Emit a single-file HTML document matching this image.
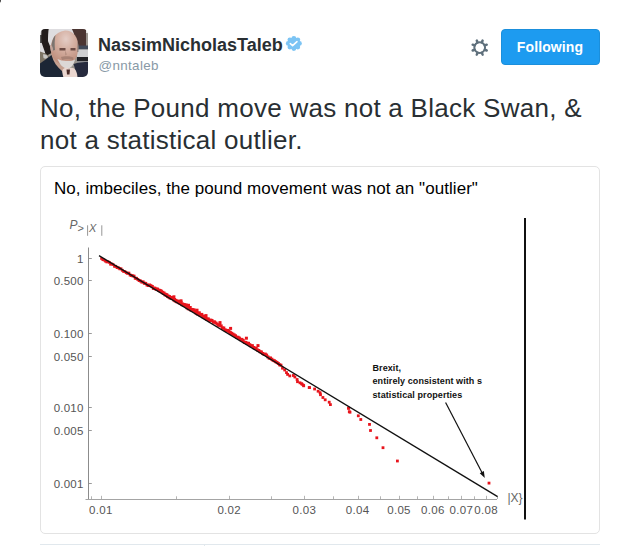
<!DOCTYPE html>
<html><head><meta charset="utf-8">
<style>
html,body{margin:0;padding:0;background:#fff;}
body{width:634px;height:546px;overflow:hidden;position:relative;font-family:"Liberation Sans",sans-serif;}
.abs{position:absolute;white-space:nowrap;}
#blob{left:-3px;top:-3px;width:4px;height:5.5px;border-radius:50%;background:#4a4a4a;filter:blur(0.6px);}
#avatar{left:40px;top:29px;width:48px;height:48px;border-radius:5px;overflow:hidden;}
#name{left:98px;top:34px;font-size:18px;font-weight:bold;color:#292f33;line-height:22px;}
#badge{left:284px;top:34px;width:20px;height:20px;}
#handle{left:98.5px;top:56.5px;font-size:13.4px;color:#8899a6;line-height:18px;letter-spacing:0.35px;}
#gear{left:469px;top:37px;width:20px;height:20px;}
#btn{left:501px;top:29px;width:97px;height:34px;border:1px solid #1b8fdc;border-radius:4px;background:#1d9bf0;color:#fff;font-weight:bold;font-size:14px;line-height:34px;text-align:center;letter-spacing:0.12px;text-indent:-1px;}
#tweet{left:40px;top:92px;font-size:26px;line-height:32px;color:#292f33;letter-spacing:0.27px;}
#card{left:40px;top:166px;width:558px;height:366px;border:1px solid #e3e3e3;border-radius:5px;}
#title{left:54px;top:179px;font-size:17px;color:#000;line-height:20px;letter-spacing:0.05px;}
#bline{left:40px;top:544px;width:560px;height:1px;background:#e1e8ed;}
#bdiv{left:204px;top:545px;width:1px;height:1px;background:#e1e8ed;}
#chart{left:0;top:0;width:634px;height:546px;}
</style></head>
<body>
<div class="abs" id="blob"></div>
<div class="abs" id="avatar">
<svg width="48" height="48" viewBox="0 0 48 48">
<defs><radialGradient id="hg" cx="0.55" cy="0.25" r="0.75"><stop offset="0" stop-color="#e4cdc6"/><stop offset="0.45" stop-color="#d4aea0"/><stop offset="1" stop-color="#bd8c7a"/></radialGradient><filter id="bl" x="-5%" y="-5%" width="110%" height="110%"><feGaussianBlur stdDeviation="0.55"/></filter></defs>
<g filter="url(#bl)">
<rect x="-2" y="-2" width="52" height="52" fill="#9a948e"/>
<rect x="0" y="-2" width="34" height="26" fill="#dedde0"/>
<path d="M-2 6H3V14H-2Z" fill="#555"/>
<path d="M1.5 -2H9C8 3 8 8 8 12 9 15 11 18 11.5 24L6 27C4.5 21 2.5 17 1.5 13 1 8 1.5 3 1.5 -2Z" fill="#221d1b"/>
<path d="M-2 22C2 23 5 24 9 27L10 33 -2 36Z" fill="#7e7466"/>
<path d="M3 25.5C5 25 7 26 8 28 7 30 5 30 3.5 29Z" fill="#c8c6c4"/>
<path d="M31 -2H46V18H38C36 10 34 4 31 -2Z" fill="#4c3430"/>
<path d="M46 -2H50V4H46Z" fill="#e4e4e4"/>
<rect x="37" y="16.5" width="13" height="4" fill="#414858"/>
<rect x="37" y="20.5" width="13" height="7.5" fill="#d0d0d2"/>
<rect x="37" y="28" width="13" height="4" fill="#222225"/>
<rect x="37" y="32" width="13" height="4" fill="#8c8c90"/>
<path d="M11 24L20 30 26 38 24 44 18 40 13 33Z" fill="#c4a090"/>
<path d="M11 23C10 12 14 3 25 1.5 34 1.5 38.5 9 38.3 19 38 28 33.5 35 27 36 19 36 13 32 11 23Z" fill="url(#hg)"/>
<path d="M11.5 22C11 16 12 10 15.5 6 14.5 11 14.5 16 15 21Z" fill="#7c7470"/>
<path d="M10 16C12 16 13 18 13 21 12.5 23 11 23 10.5 21Z" fill="#c4a49a"/>
<path d="M37.5 12C38.6 15 38.7 19 38.4 23L37.2 23C37.5 19 37.5 15 37.5 12Z" fill="#8a7e78"/>
<path d="M19.5 19h6v2.4h-6zM30.5 19h5v2.4h-5z" fill="#6c4c44"/>
<path d="M25 21L27 25.5 25 26.5Z" fill="#b89284"/>
<path d="M21 28C24 27 30 27 33.5 28.5L33 31C30 30 25 30 22 31Z" fill="#a07c6e" opacity="0.8"/>
<path d="M17.5 30C19.5 35 23 39.5 27.5 39.5 31.5 39.5 34 35 35 30.5 32 32.5 29 32 26 32 23 32 20 31 17.5 30Z" fill="#dcd8d6"/>
<path d="M-2 50V36C3 32 8 29 11.5 26 13.5 33 17 38 22 42L25 50Z" fill="#1f2534"/>
<path d="M33.5 35C38 33.5 43 33 50 33V50H37C36 44 35 39 33.5 35Z" fill="#262c3c"/>
<path d="M22.5 41C24 38.5 27 38 29 39.5 31 38 34 38.5 35.5 41 37 43.5 37.5 46 37.5 50H24C23 47 22 44 22.5 41Z" fill="#ead6cf"/>
<path d="M26.5 40.5h3.5l-0.5 5h-2.5z" fill="#4a2a28"/>
</g>
</svg>
</div>
<div class="abs" id="name">NassimNicholasTaleb</div>
<svg class="abs" id="badge" viewBox="0 0 20 20"><g fill="#7cc4f4"><ellipse cx="9.85" cy="9.4" rx="6.3" ry="5.9"/><circle cx="9.85" cy="4.30" r="2.4"/><circle cx="13.81" cy="5.79" r="2.4"/><circle cx="15.45" cy="9.40" r="2.4"/><circle cx="13.81" cy="13.01" r="2.4"/><circle cx="9.85" cy="14.50" r="2.4"/><circle cx="5.89" cy="13.01" r="2.4"/><circle cx="4.25" cy="9.40" r="2.4"/><circle cx="5.89" cy="5.79" r="2.4"/></g><path d="M6.3 9.7l2.3 1.9 4.4-3.9" stroke="#fff" stroke-width="1.6" fill="none" stroke-linecap="round" stroke-linejoin="round"/></svg>
<div class="abs" id="handle">@nntaleb</div>
<svg class="abs" id="gear" viewBox="0 0 20 20"><circle cx="10.7" cy="10.6" r="5.35" fill="none" stroke="#5f707c" stroke-width="2"/><path d="M12.84 5.43L13.61 3.58M15.87 8.46L17.72 7.69M15.87 12.74L17.72 13.51M12.84 15.77L13.61 17.62M8.56 15.77L7.79 17.62M5.53 12.74L3.68 13.51M5.53 8.46L3.68 7.69M8.56 5.43L7.79 3.58" stroke="#5f707c" stroke-width="2.5" stroke-linecap="round"/></svg>
<div class="abs" id="btn">Following</div>
<div class="abs" id="tweet">No, the Pound move was not a Black Swan, &amp;<br>not a statistical outlier.</div>
<div class="abs" id="card"></div>
<div class="abs" id="title">No, imbeciles, the pound movement was not an "outlier"</div>
<svg class="abs" id="chart" width="634" height="546" viewBox="0 0 634 546">
<path d="M88.5 247.5V500" stroke="#8c8c8c" stroke-width="1" fill="none"/><path d="M85.5 499.5H497" stroke="#a4a4a4" stroke-width="1" fill="none"/>
<path d="M89 258.5H91.8M89 280.5H91.8M89 333.5H91.8M89 356.5H91.8M89 407.5H91.8M89 430.5H91.8M89 483.5H91.8" stroke="#9a9a9a" stroke-width="1"/>
<path d="M101.5 499V495.8M229.5 499V495.8M304.5 499V495.8M358.5 499V495.8M399.5 499V495.8M433.5 499V495.8M461.5 499V495.8M486.5 499V495.8M91.5 499V496.3M176.5 499V496.3M271.5 499V496.3M333.5 499V496.3M380.5 499V496.3M417.5 499V496.3M448.5 499V496.3M474.5 499V496.3M497.5 499V496.3" stroke="#b4b4b4" stroke-width="1"/>
<g font-size="11.5" fill="#555" letter-spacing="0.2" text-anchor="end"><text x="83.5" y="262.6">1</text><text x="83.5" y="284.6">0.500</text><text x="83.5" y="337.6">0.100</text><text x="83.5" y="360.6">0.050</text><text x="83.5" y="411.6">0.010</text><text x="83.5" y="434.6">0.005</text><text x="83.5" y="487.6">0.001</text></g>
<g font-size="11.5" fill="#555" letter-spacing="0.3" text-anchor="middle"><text x="100.8" y="514">0.01</text><text x="229.2" y="514">0.02</text><text x="304.3" y="514">0.03</text><text x="357.6" y="514">0.04</text><text x="399.0" y="514">0.05</text><text x="432.8" y="514">0.06</text><text x="461.3" y="514">0.07</text><text x="486.1" y="514">0.08</text></g>
<g fill="#e8141c"><rect x="100.2" y="257.2" width="2.6" height="2.6"/><rect x="101.5" y="258.4" width="2.6" height="2.6"/><rect x="102.8" y="258.8" width="2.6" height="2.6"/><rect x="104.1" y="259.9" width="2.6" height="2.6"/><rect x="105.4" y="260.6" width="2.7" height="2.7"/><rect x="106.7" y="260.4" width="2.7" height="2.7"/><rect x="108.0" y="261.0" width="2.7" height="2.7"/><rect x="109.2" y="262.9" width="2.7" height="2.7"/><rect x="110.5" y="262.6" width="2.7" height="2.7"/><rect x="111.8" y="263.2" width="2.7" height="2.7"/><rect x="113.1" y="265.0" width="2.7" height="2.7"/><rect x="114.4" y="264.9" width="2.8" height="2.8"/><rect x="115.7" y="266.2" width="2.8" height="2.8"/><rect x="117.0" y="266.4" width="2.8" height="2.8"/><rect x="118.3" y="267.4" width="2.8" height="2.8"/><rect x="119.6" y="267.4" width="2.8" height="2.8"/><rect x="120.9" y="268.9" width="2.8" height="2.8"/><rect x="122.2" y="270.0" width="2.8" height="2.8"/><rect x="123.5" y="270.2" width="2.8" height="2.8"/><rect x="124.8" y="271.3" width="2.8" height="2.8"/><rect x="126.1" y="271.9" width="2.8" height="2.8"/><rect x="127.4" y="271.7" width="2.9" height="2.9"/><rect x="128.7" y="273.6" width="2.9" height="2.9"/><rect x="130.0" y="274.1" width="2.9" height="2.9"/><rect x="131.3" y="274.4" width="2.9" height="2.9"/><rect x="132.6" y="274.7" width="2.9" height="2.9"/><rect x="133.8" y="276.8" width="2.9" height="2.9"/><rect x="135.1" y="276.9" width="2.9" height="2.9"/><rect x="136.4" y="278.0" width="2.9" height="2.9"/><rect x="137.7" y="279.1" width="2.9" height="2.9"/><rect x="139.0" y="279.5" width="2.9" height="2.9"/><rect x="140.3" y="280.6" width="2.9" height="2.9"/><rect x="141.6" y="280.4" width="3.0" height="3.0"/><rect x="142.9" y="281.8" width="3.0" height="3.0"/><rect x="144.2" y="281.9" width="3.0" height="3.0"/><rect x="145.5" y="283.4" width="3.0" height="3.0"/><rect x="146.8" y="284.0" width="3.0" height="3.0"/><rect x="148.1" y="283.5" width="3.0" height="3.0"/><rect x="149.4" y="284.2" width="3.0" height="3.0"/><rect x="150.7" y="285.0" width="3.1" height="3.1"/><rect x="151.9" y="286.8" width="3.1" height="3.1"/><rect x="153.2" y="286.6" width="3.1" height="3.1"/><rect x="154.5" y="287.5" width="3.2" height="3.2"/><rect x="155.8" y="287.6" width="3.2" height="3.2"/><rect x="157.1" y="288.6" width="3.3" height="3.3"/><rect x="158.4" y="289.0" width="3.3" height="3.3"/><rect x="159.6" y="289.7" width="3.3" height="3.3"/><rect x="160.9" y="290.8" width="3.4" height="3.4"/><rect x="162.2" y="291.6" width="3.4" height="3.4"/><rect x="163.5" y="292.8" width="3.5" height="3.5"/><rect x="164.8" y="293.2" width="3.5" height="3.5"/><rect x="166.0" y="294.4" width="3.5" height="3.5"/><rect x="167.3" y="295.0" width="3.6" height="3.6"/><rect x="168.6" y="295.9" width="3.6" height="3.6"/><rect x="169.9" y="296.2" width="3.6" height="3.6"/><rect x="171.2" y="296.1" width="3.6" height="3.6"/><rect x="172.5" y="298.0" width="3.6" height="3.6"/><rect x="173.8" y="298.9" width="3.6" height="3.6"/><rect x="175.1" y="299.6" width="3.6" height="3.6"/><rect x="176.4" y="299.8" width="3.6" height="3.6"/><rect x="177.7" y="300.8" width="3.6" height="3.6"/><rect x="179.0" y="300.8" width="3.6" height="3.6"/><rect x="180.3" y="302.5" width="3.6" height="3.6"/><rect x="181.6" y="302.9" width="3.6" height="3.6"/><rect x="182.9" y="303.2" width="3.6" height="3.6"/><rect x="184.2" y="303.6" width="3.6" height="3.6"/><rect x="185.5" y="305.7" width="3.6" height="3.6"/><rect x="186.8" y="306.7" width="3.6" height="3.6"/><rect x="188.1" y="306.0" width="3.6" height="3.6"/><rect x="189.4" y="307.9" width="3.6" height="3.6"/><rect x="190.7" y="308.1" width="3.6" height="3.6"/><rect x="192.0" y="308.4" width="3.6" height="3.6"/><rect x="193.3" y="309.4" width="3.6" height="3.6"/><rect x="194.6" y="310.9" width="3.6" height="3.6"/><rect x="195.9" y="311.9" width="3.6" height="3.6"/><rect x="197.2" y="311.3" width="3.6" height="3.6"/><rect x="198.5" y="313.0" width="3.6" height="3.6"/><rect x="199.8" y="312.9" width="3.5" height="3.5"/><rect x="201.2" y="314.7" width="3.5" height="3.5"/><rect x="202.5" y="314.8" width="3.4" height="3.4"/><rect x="203.8" y="316.5" width="3.4" height="3.4"/><rect x="205.1" y="317.4" width="3.3" height="3.3"/><rect x="206.5" y="317.4" width="3.3" height="3.3"/><rect x="207.8" y="318.9" width="3.2" height="3.2"/><rect x="209.1" y="318.6" width="3.2" height="3.2"/><rect x="210.4" y="319.0" width="3.1" height="3.1"/><rect x="211.8" y="320.6" width="3.1" height="3.1"/><rect x="213.1" y="320.4" width="3.0" height="3.0"/><rect x="214.4" y="321.5" width="3.0" height="3.0"/><rect x="215.7" y="322.6" width="3.0" height="3.0"/><rect x="217.0" y="323.7" width="3.0" height="3.0"/><rect x="218.3" y="323.8" width="3.0" height="3.0"/><rect x="219.6" y="324.4" width="3.1" height="3.1"/><rect x="220.9" y="326.5" width="3.1" height="3.1"/><rect x="222.2" y="326.5" width="3.1" height="3.1"/><rect x="223.5" y="328.3" width="3.1" height="3.1"/><rect x="224.7" y="329.0" width="3.1" height="3.1"/><rect x="226.0" y="328.9" width="3.1" height="3.1"/><rect x="227.3" y="329.9" width="3.1" height="3.1"/><rect x="228.6" y="330.8" width="3.2" height="3.2"/><rect x="229.9" y="331.8" width="3.2" height="3.2"/><rect x="231.2" y="332.6" width="3.2" height="3.2"/><rect x="232.5" y="333.4" width="3.2" height="3.2"/><rect x="233.8" y="334.3" width="3.2" height="3.2"/><rect x="235.1" y="335.7" width="3.2" height="3.2"/><rect x="236.4" y="335.8" width="3.2" height="3.2"/><rect x="237.7" y="336.6" width="3.2" height="3.2"/><rect x="239.0" y="337.9" width="3.2" height="3.2"/><rect x="240.3" y="337.9" width="3.1" height="3.1"/><rect x="241.6" y="338.9" width="3.1" height="3.1"/><rect x="242.9" y="340.8" width="3.1" height="3.1"/><rect x="244.2" y="340.9" width="3.1" height="3.1"/><rect x="245.5" y="341.8" width="3.1" height="3.1"/><rect x="246.9" y="341.8" width="3.1" height="3.1"/><rect x="248.2" y="343.2" width="3.1" height="3.1"/><rect x="249.5" y="344.3" width="3.1" height="3.1"/><rect x="250.8" y="344.2" width="3.1" height="3.1"/><rect x="252.1" y="346.0" width="3.1" height="3.1"/><rect x="253.4" y="346.8" width="3.0" height="3.0"/><rect x="254.7" y="346.7" width="3.0" height="3.0"/><rect x="256.0" y="348.5" width="3.0" height="3.0"/><rect x="257.3" y="349.0" width="3.0" height="3.0"/><rect x="258.6" y="350.2" width="3.0" height="3.0"/><rect x="259.9" y="350.5" width="3.0" height="3.0"/><rect x="261.2" y="352.0" width="3.0" height="3.0"/><rect x="262.5" y="352.9" width="3.0" height="3.0"/><rect x="263.8" y="352.6" width="3.0" height="3.0"/><rect x="265.1" y="353.6" width="3.0" height="3.0"/><rect x="266.4" y="355.4" width="3.0" height="3.0"/><rect x="267.7" y="356.7" width="3.0" height="3.0"/><rect x="269.0" y="356.5" width="3.0" height="3.0"/><rect x="270.3" y="357.7" width="3.0" height="3.0"/><rect x="271.6" y="358.8" width="3.0" height="3.0"/><rect x="272.9" y="359.3" width="3.0" height="3.0"/><rect x="274.2" y="360.2" width="3.0" height="3.0"/><rect x="275.5" y="361.0" width="3.0" height="3.0"/><rect x="276.8" y="362.0" width="3.0" height="3.0"/><rect x="278.1" y="363.3" width="3.0" height="3.0"/><rect x="279.4" y="363.7" width="3.0" height="3.0"/><rect x="172.4" y="295.3" width="3.0" height="3.0"/><rect x="179.5" y="299.3" width="3.0" height="3.0"/><rect x="187.0" y="303.8" width="3.0" height="3.0"/><rect x="195.5" y="308.7" width="3.0" height="3.0"/><rect x="204.5" y="314.1" width="3.0" height="3.0"/><rect x="218.5" y="321.1" width="3.0" height="3.0"/><rect x="229.1" y="326.9" width="3.0" height="3.0"/><rect x="244.9" y="336.7" width="3.0" height="3.0"/><rect x="256.5" y="344.1" width="3.0" height="3.0"/><rect x="281.1" y="366.8" width="2.8" height="2.8"/><rect x="283.3" y="368.6" width="2.8" height="2.8"/><rect x="285.1" y="371.2" width="2.8" height="2.8"/><rect x="286.2" y="373.0" width="2.8" height="2.8"/><rect x="288.4" y="374.5" width="2.8" height="2.8"/><rect x="292.0" y="374.1" width="2.8" height="2.8"/><rect x="293.5" y="375.6" width="2.8" height="2.8"/><rect x="295.7" y="378.1" width="2.8" height="2.8"/><rect x="296.1" y="380.3" width="2.8" height="2.8"/><rect x="298.6" y="381.4" width="2.8" height="2.8"/><rect x="300.2" y="382.3" width="2.8" height="2.8"/><rect x="300.8" y="382.9" width="2.8" height="2.8"/><rect x="302.1" y="383.9" width="2.8" height="2.8"/><rect x="302.3" y="384.4" width="2.8" height="2.8"/><rect x="307.8" y="386.2" width="2.8" height="2.8"/><rect x="308.1" y="386.2" width="2.8" height="2.8"/><rect x="313.2" y="387.6" width="2.8" height="2.8"/><rect x="316.7" y="389.8" width="2.8" height="2.8"/><rect x="318.7" y="391.3" width="2.8" height="2.8"/><rect x="319.1" y="393.3" width="2.8" height="2.8"/><rect x="321.5" y="396.1" width="2.8" height="2.8"/><rect x="323.8" y="398.4" width="2.8" height="2.8"/><rect x="327.8" y="400.8" width="2.8" height="2.8"/><rect x="329.0" y="403.2" width="2.8" height="2.8"/><rect x="347.1" y="406.7" width="2.8" height="2.8"/><rect x="347.3" y="406.9" width="2.8" height="2.8"/><rect x="347.9" y="410.3" width="2.8" height="2.8"/><rect x="348.6" y="410.8" width="2.8" height="2.8"/><rect x="356.9" y="414.4" width="2.8" height="2.8"/><rect x="359.4" y="418.1" width="2.8" height="2.8"/><rect x="368.1" y="423.0" width="2.8" height="2.8"/><rect x="369.1" y="429.1" width="2.8" height="2.8"/><rect x="375.4" y="436.4" width="2.8" height="2.8"/><rect x="381.6" y="446.3" width="2.8" height="2.8"/><rect x="396.0" y="459.6" width="2.8" height="2.8"/><rect x="487.6" y="481.7" width="2.8" height="2.8"/></g>
<path d="M99 255.6L497.6 496.6" stroke="#111" stroke-width="1.3" fill="none"/>
<path d="M525 218V519.5" stroke="#111" stroke-width="2"/>
<path d="M445.6 402.5L482.2 473" stroke="#111" stroke-width="1.2"/>
<path d="M484.8 478L479.75 473.3 483.85 471.1Z" fill="#111"/>
<g font-size="9" font-weight="bold" fill="#111" letter-spacing="0.08"><text x="372.5" y="371">Brexit,</text><text x="372.5" y="384">entirely consistent with s</text><text x="372.5" y="397.5">statistical properties</text></g>
<g fill="#666"><text x="69.5" y="229" font-size="12" font-style="italic">P</text><text x="77.6" y="231.6" font-size="11">&gt;</text><text x="89" y="232.2" font-size="11" font-style="italic">X</text><path d="M87.6 225.3V235.8M101.8 225.3V235.8" stroke="#8a8a8a" stroke-width="0.9"/></g>
<text x="507.5" y="501.6" font-size="12" fill="#666">|X}</text>
</svg>
<div class="abs" id="bline"></div>
<div class="abs" id="bdiv"></div>
</body></html>
